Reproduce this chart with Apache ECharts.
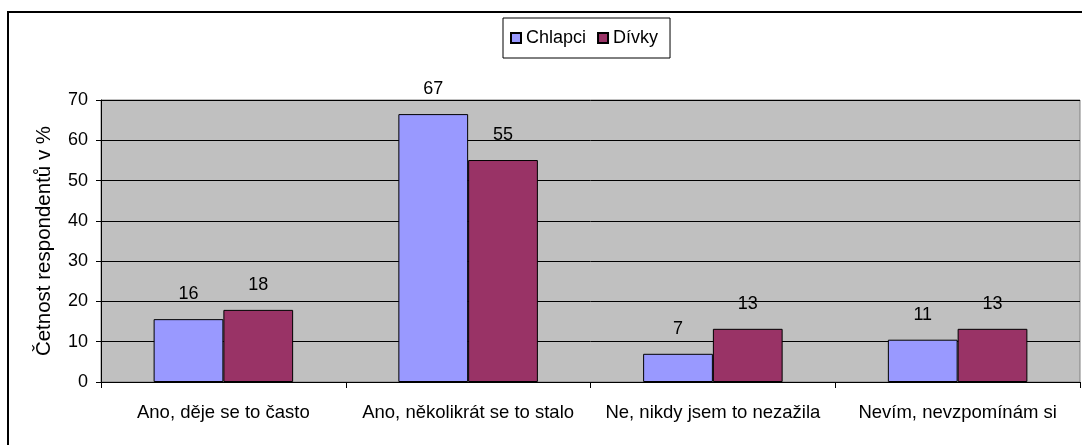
<!DOCTYPE html>
<html>
<head>
<meta charset="utf-8">
<script src="https://cdn.jsdelivr.net/npm/echarts@6/dist/echarts.min.js"></script>
<style>
html,body{margin:0;padding:0;background:#fff;}
#chart{width:1082px;height:445px;}
</style>
</head>
<body>
<div id="chart"></div>
<script>
var categories = ['Ano, děje se to často', 'Ano, několikrát se to stalo', 'Ne, nikdy jsem to nezažila', 'Nevím, nevzpomínám si'];
var chlapci = [15.6, 66.5, 7.0, 10.5];
var divky = [17.9, 55.1, 13.2, 13.2];
var yTicks = [0, 10, 20, 30, 40, 50, 60, 70];
var seriesNames = ['Chlapci', 'Dívky'];
var yTitle = 'Četnost respondentů v %';

var FONT = '"Liberation Sans", Arial, sans-serif';
var chart = echarts.init(document.getElementById('chart'), null, {renderer: 'canvas'});

function labelCfg() {
  return {
    show: true, position: 'top', distance: 16,
    color: '#000', fontFamily: FONT, fontSize: 18,
    formatter: function (p) { return Math.round(p.value); }
  };
}

chart.setOption({
  animation: false,
  backgroundColor: '#fff',
  textStyle: {fontFamily: FONT},
  graphic: [{
    type: 'rect', z: 100, silent: true,
    shape: {x: 8, y: 12, width: 1200, height: 600},
    style: {fill: 'none', stroke: '#000', lineWidth: 2}
  }],
  legend: {
    data: seriesNames,
    left: 503, top: 18,
    padding: [11, 12, 11, 7],
    itemGap: 11,
    itemWidth: 10, itemHeight: 10,
    icon: 'rect',
    backgroundColor: '#fff',
    borderColor: '#000', borderWidth: 1,
    textStyle: {color: '#000', fontFamily: FONT, fontSize: 18}
  },
  grid: {
    left: 101, right: 2, top: 100, bottom: 63,
    show: true, backgroundColor: '#C0C0C0',
    borderColor: '#808080', borderWidth: 1,
    containLabel: false
  },
  xAxis: {
    type: 'category',
    data: categories,
    axisLine: {show: true, lineStyle: {color: '#000', width: 1}},
    axisTick: {show: true, length: 6, lineStyle: {color: '#000'}},
    axisLabel: {color: '#000', fontFamily: FONT, fontSize: 18.5, margin: 21, interval: 0},
    splitLine: {show: false}
  },
  yAxis: {
    type: 'value',
    min: yTicks[0], max: yTicks[yTicks.length - 1], interval: 10,
    name: yTitle,
    nameLocation: 'middle',
    nameGap: 46,
    nameTextStyle: {color: '#000', fontFamily: FONT, fontSize: 20.5},
    axisLine: {show: true, lineStyle: {color: '#000', width: 1}},
    axisTick: {show: true, length: 5, lineStyle: {color: '#000'}},
    axisLabel: {color: '#000', fontFamily: FONT, fontSize: 18, margin: 13},
    splitLine: {show: true, lineStyle: {color: '#000', width: 1}}
  },
  series: [
    {
      name: seriesNames[0], type: 'bar', data: chlapci,
      barGap: '0%', barCategoryGap: '43%',
      itemStyle: {color: '#9999FF', borderColor: '#000', borderWidth: 1},
      label: labelCfg()
    },
    {
      name: seriesNames[1], type: 'bar', data: divky,
      barGap: '0%', barCategoryGap: '43%',
      itemStyle: {color: '#993366', borderColor: '#000', borderWidth: 1},
      label: labelCfg()
    }
  ]
});
</script>
</body>
</html>
